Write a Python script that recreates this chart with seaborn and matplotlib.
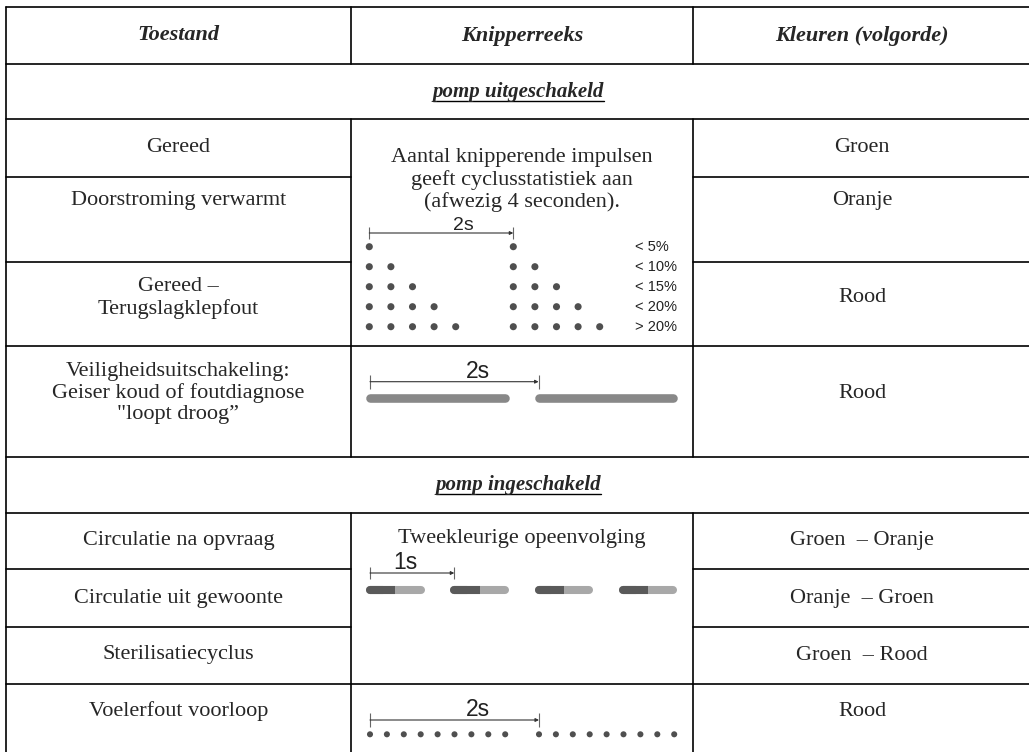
import matplotlib.pyplot as plt
import seaborn as sns
import pandas as pd

sns.set_theme(style="white")
plt.rcParams['font.family'] = ['Liberation Serif', 'DejaVu Serif']

# --- gegevens ---
kop = ["Toestand", "Knipperreeks", "Kleuren (volgorde)"]
secties = ["pomp uitgeschakeld", "pomp ingeschakeld"]
toestanden_uit = ["Gereed", "Doorstroming verwarmt", "Gereed –\nTerugslagklepfout",
                  "Veiligheidsuitschakeling:\nGeiser koud of foutdiagnose\n\"loopt droog”"]
kleuren_uit = ["Groen", "Oranje", "Rood", "Rood"]
toestanden_aan = ["Circulatie na opvraag", "Circulatie uit gewoonte", "Sterilisatiecyclus",
                  "Voelerfout voorloop"]
kleuren_aan = ["Groen  – Oranje", "Oranje  – Groen", "Groen  – Rood", "Rood"]
uitleg_impulsen = "Aantal knipperende impulsen\ngeeft cyclusstatistiek aan\n(afwezig 4 seconden)."
uitleg_tweekleur = "Tweekleurige opeenvolging"

# impulsreeks: aantal impulsen per niveau, tijden in s
niveaus = ["< 5%", "< 10%", "< 15%", "< 20%", "> 20%"]
impulsen = [1, 2, 3, 4, 5]
impuls_tijden = [0.0, 0.3, 0.6, 0.9, 1.2]
reeks_starts = [0.0, 2.0]

# continu branden (s)
aan_blokken = [(0.0, 1.6), (2.0, 3.6)]

# tweekleurig: start van elke flits, duur per kleur (s)
tweekleur_starts = [0.0, 1.0, 2.0, 3.0]
kleur1_duur = 0.3
kleur2_duur = 0.3

# voelerfout: snelle flitsen (s)
flits_tijden = [0.0, 0.2, 0.4, 0.6, 0.8, 1.0, 1.2, 1.4, 1.6]

# --- opmaak ---
W, H = 1029, 752
X0, X1, X2, X3 = 6, 350.7, 693, 1031
LIJN = "black"
DONKER = "#4f4f4f"
SANS = ['Liberation Sans', 'DejaVu Sans']
FS = 16

fig = plt.figure(figsize=(W / 100, H / 100), dpi=100)
ax = fig.add_axes([0, 0, 1, 1])
ax.set_xlim(0, W)
ax.set_ylim(H, 0)
ax.axis('off')

# rasterlijnen
volle_lijnen = [7, 64, 119, 346, 457, 513, 684]
for y in volle_lijnen:
    ax.plot([X0, X3], [y, y], color=LIJN, lw=1.2)
for y in [177, 262, 569, 627]:
    ax.plot([X0, X1], [y, y], color=LIJN, lw=1.2)
    ax.plot([X2, X3], [y, y], color=LIJN, lw=1.2)
ax.plot([X0, X0], [7, H], color=LIJN, lw=1.2)
for x in [X1, X2]:
    for (a, b) in [(7, 64), (119, 457), (513, H)]:
        ax.plot([x, x], [a, b], color=LIJN, lw=1.2)

cx = [(X0 + X1) / 2, (X1 + X2) / 2, (X2 + X3) / 2]
for x, t in zip(cx, kop):
    ax.text(x, 35.5, t, ha='center', va='center', fontsize=FS, fontweight='bold', fontstyle='italic')

sectie_teksten = []
for y, t in zip([91.5, 485], secties):
    sectie_teksten.append(ax.text((X0 + X3) / 2, y, t, ha='center', va='center', fontsize=FS - 1,
                                  fontweight='bold', fontstyle='italic'))

y_uit = [148, 201, 298, 393]
y_aan = [541, 598, 655, 711]
for y, t, k in zip(y_uit, toestanden_uit, kleuren_uit):
    ax.text(cx[0], y, t, ha='center', va='center', fontsize=FS, linespacing=1.15)
    ax.text(cx[2], y, k, ha='center', va='center', fontsize=FS)
for y, t, k in zip(y_aan, toestanden_aan, kleuren_aan):
    ax.text(cx[0], y, t, ha='center', va='center', fontsize=FS)
    ax.text(cx[2], y, k, ha='center', va='center', fontsize=FS)

ax.text(cx[1], 180, uitleg_impulsen, ha='center', va='center', fontsize=FS, linespacing=1.15)
ax.text(cx[1], 539, uitleg_tweekleur, ha='center', va='center', fontsize=FS)


def tijd_as(top, bot, t0_px, px_per_s):
    a = fig.add_axes([X1 / W, 1 - bot / H, (X2 - X1) / W, (bot - top) / H])
    a.set_xlim((X1 - t0_px) / px_per_s, (X2 - t0_px) / px_per_s)
    a.set_ylim(bot, top)
    a.axis('off')
    a.patch.set_alpha(0)
    return a


def maatstreep(a, lengte, y, tick, label, label_pos, fs):
    a.vlines([0, lengte], y - tick, y + tick, color="#666666", lw=0.8)
    a.annotate("", xy=(lengte, y), xytext=(0, y),
               arrowprops=dict(arrowstyle='-|>', color="#333333", lw=0.8,
                               mutation_scale=5, shrinkA=0, shrinkB=0))
    a.text(lengte * label_pos, y + 1, label, ha='center', va='bottom', fontsize=fs,
           family=SANS, color="#222222")


# 1: impulsen
a1 = tijd_as(119, 346, 369.3, 72)
rijen = []
for i, n in enumerate(impulsen):
    for s in reeks_starts:
        for t in impuls_tijden[:n]:
            rijen.append({"t": s + t, "y": 246.7 + 20 * i})
df1 = pd.DataFrame(rijen)
sns.scatterplot(data=df1, x="t", y="y", ax=a1, s=26, color=DONKER, edgecolor='none', legend=False)
for i, lab in enumerate(niveaus):
    a1.text(3.69, 246.7 + 20 * i, lab, ha='left', va='center', fontsize=10.5, family=SANS, color="#222222")
maatstreep(a1, 2.0, 233, 6, "2s", 0.65, 14)
a1.axis('off')

# 2: continu
a2 = tijd_as(346, 457, 370, 84.3)
for (b, e) in aan_blokken:
    a2.plot([b, e], [398.3, 398.3], color="#888888", lw=6.2, solid_capstyle='round')
maatstreep(a2, 2.0, 381.7, 7, "2s", 0.64, 16.5)

# 3: tweekleurig
a3 = tijd_as(513, 684, 370, 84.3)
for s in tweekleur_starts:
    a3.plot([s, s + kleur1_duur + kleur2_duur], [590, 590], color="#a8a8a8", lw=5.8, solid_capstyle='round')
    a3.plot([s, s + kleur1_duur / 2], [590, 590], color="#5a5a5a", lw=5.8, solid_capstyle='round')
    a3.plot([s, s + kleur1_duur], [590, 590], color="#5a5a5a", lw=5.8, solid_capstyle='butt')
maatstreep(a3, 1.0, 573, 6, "1s", 0.42, 16.5)

# 4: voelerfout
a4 = tijd_as(684, H, 370, 84.5)
df4 = pd.DataFrame({"t": [s + t for s in reeks_starts for t in flits_tijden]})
df4["y"] = 734.3
sns.scatterplot(data=df4, x="t", y="y", ax=a4, s=19, color=DONKER, edgecolor='none', legend=False)
maatstreep(a4, 2.0, 720, 7, "2s", 0.64, 16.5)
a4.axis('off')

# onderstreping sectietitels
fig.canvas.draw()
r = fig.canvas.get_renderer()
for t in sectie_teksten:
    bb = t.get_window_extent(r)
    x_a, y_a = ax.transData.inverted().transform((bb.x0, bb.y0))
    x_b, _ = ax.transData.inverted().transform((bb.x1, bb.y0))
    ax.plot([x_a, x_b], [y_a - 1, y_a - 1], color="black", lw=1.0)

fig.savefig("out.png", dpi=100)
